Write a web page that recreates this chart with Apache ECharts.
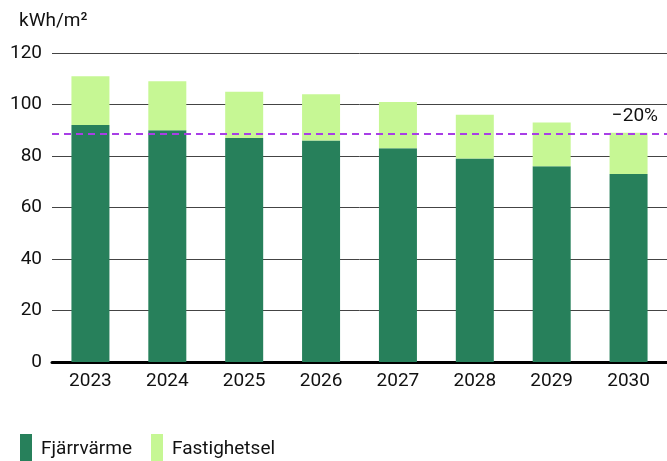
<!DOCTYPE html>
<html>
<head>
<meta charset="utf-8">
<script src="https://cdn.jsdelivr.net/npm/echarts@6/dist/echarts.min.js"></script>
<style>
html, body { margin: 0; padding: 0; background: #fff; }
#main { width: 667px; height: 461px; }
</style>
</head>
<body>
<div id="main"></div>
<script>
// år
var years = ['2023', '2024', '2025', '2026', '2027', '2028', '2029', '2030']
// fjärrvärme
var fjarrvarme = [92, 90, 87, 86, 83, 79, 76, 73]
// fastighetsel
var fastighetsel = [19, 19, 18, 18, 18, 17, 17, 16]
// målnivå (-20% jämfört med 2023)
var target = 88.8
var targetLabel = '−20%'

var font = 'Roboto, "Noto Sans", sans-serif'
var myChart = echarts.init(document.getElementById('main'))
var option = {
    animation: false,
    textStyle: { fontFamily: font },
    title: {
        text: 'kWh/m²',
        left: 14,
        top: 7,
        textStyle: { fontSize: 19, fontWeight: 'normal', color: '#111', fontFamily: font }
    },
    legend: {
        left: 15,
        top: 429,
        itemWidth: 12,
        itemHeight: 31,
        itemGap: 19,
        icon: 'rect',
        textStyle: { fontSize: 19, color: '#111', padding: [20, 0, 0, 4] },
        data: ['Fjärrvärme', 'Fastighetsel']
    },
    grid: {
        left: 52,
        right: -8,
        top: 53,
        bottom: 99
    },
    xAxis: {
        type: 'category',
        data: years,
        axisTick: { show: false },
        axisLine: { lineStyle: { color: '#000', width: 3 } },
        axisLabel: { fontSize: 19, color: '#111', margin: 10 }
    },
    yAxis: {
        type: 'value',
        min: 0,
        max: 120,
        interval: 20,
        axisLine: { show: false },
        axisTick: { show: false },
        axisLabel: { fontSize: 19, color: '#111', margin: 10, padding: [7, 0, 0, 0] },
        splitLine: { lineStyle: { color: '#444', width: 1 } }
    },
    series: [
        {
            name: 'Fjärrvärme',
            type: 'bar',
            stack: 'total',
            barWidth: 38,
            itemStyle: { color: '#27805b' },
            data: fjarrvarme
        },
        {
            name: 'Fastighetsel',
            type: 'bar',
            stack: 'total',
            barWidth: 38,
            itemStyle: { color: '#c6f794' },
            data: fastighetsel,
            markLine: {
                silent: true,
                symbol: ['none', 'none'],
                lineStyle: { color: '#a83ee6', type: [7, 5], width: 2 },
                label: {
                    formatter: targetLabel,
                    position: 'insideEndTop',
                    distance: [9, 8],
                    fontSize: 19,
                    color: '#111'
                },
                data: [{ yAxis: target }]
            }
        }
    ]
}
myChart.setOption(option)
</script>
</body>
</html>
